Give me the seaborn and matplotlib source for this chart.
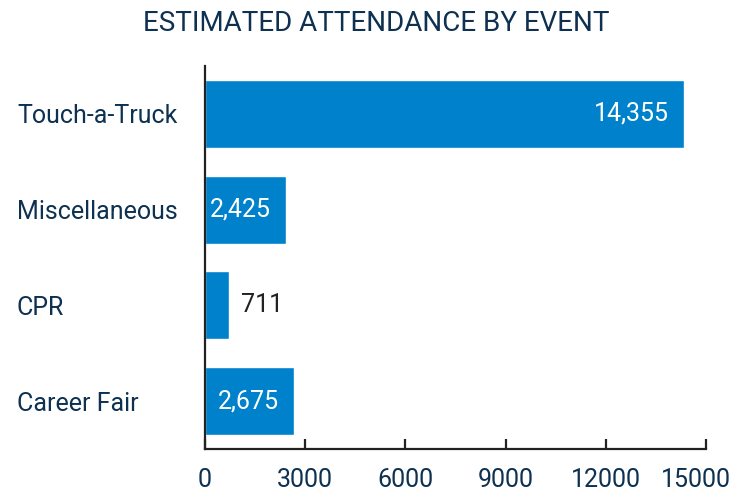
import matplotlib
matplotlib.use("Agg")
import matplotlib.pyplot as plt
import matplotlib.transforms as mtransforms
import seaborn as sns
import pandas as pd

events = ["Touch-a-Truck", "Miscellaneous", "CPR", "Career Fair"]
attendance = [14355, 2425, 711, 2675]
x_ticks = [0, 3000, 6000, 9000, 12000, 15000]

BAR_COLOR = "#0081CB"
NAVY = "#0E3151"
DARK = "#222222"

sns.set_theme(style="white")
plt.rcParams["font.family"] = ["Roboto", "DejaVu Sans"]

df = pd.DataFrame({"event": events, "attendance": attendance})

fig = plt.figure(figsize=(7.33, 4.96), dpi=100)
ax = fig.add_axes([205 / 733, 1 - 449 / 496, 501 / 733, (449 - 66) / 496])

sns.barplot(data=df, x="attendance", y="event", orient="h", color=BAR_COLOR,
            saturation=1, width=0.71, ax=ax)

ax.set_xlim(0, 15000)
ax.set_ylim(3.5, -0.5)
ax.set_xticks(x_ticks)
ax.set_xticklabels([str(t) for t in x_ticks])
ax.set_xlabel("")
ax.set_ylabel("")

for side in ["top", "right"]:
    ax.spines[side].set_visible(False)
for side in ["left", "bottom"]:
    ax.spines[side].set_color(DARK)
    ax.spines[side].set_linewidth(1.6)

ax.tick_params(axis="x", direction="in", length=7, width=1.6, color=DARK,
               labelsize=18, labelcolor=NAVY, pad=14, bottom=True)
ax.tick_params(axis="y", length=0, labelsize=18, labelcolor=NAVY)
for lab in ax.get_yticklabels():
    lab.set_horizontalalignment("left")
    lab.set_x(-188 / 501)
    lab.set_transform(ax.get_yaxis_transform())

# keep the last x label inside the figure
last = ax.get_xticklabels()[-1]
last.set_transform(last.get_transform() +
                   mtransforms.ScaledTranslation(-10 / 100, 0, fig.dpi_scale_trans))

# value labels: inside the bar when it is wide enough, otherwise beside it
for i, v in enumerate(attendance):
    text = f"{v:,}"
    if v > 1500:
        ax.annotate(text, (v, i), xytext=(-11, 0), textcoords="offset points",
                    ha="right", va="center", color="white", fontsize=18)
    else:
        ax.annotate(text, (v, i), xytext=(9, 0), textcoords="offset points",
                    ha="left", va="center", color=DARK, fontsize=18)

fig.text(376 / 733, 1 - 23.5 / 496, "ESTIMATED ATTENDANCE BY EVENT",
         ha="center", va="center", color=NAVY, fontsize=20)

fig.savefig("out.png", dpi=100)
